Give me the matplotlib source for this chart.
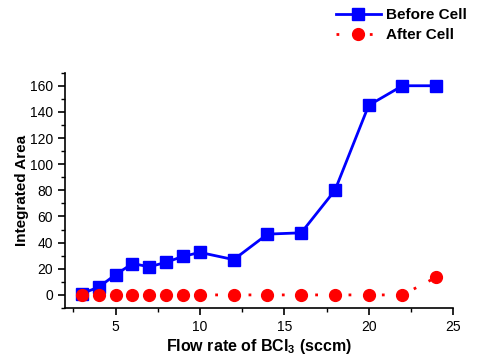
import matplotlib
matplotlib.use("Agg")
import matplotlib.pyplot as plt
from matplotlib.ticker import MultipleLocator

plt.rcParams['font.family'] = ['Liberation Sans', 'DejaVu Sans']

flow = [3, 4, 5, 6, 7, 8, 9, 10, 12, 14, 16, 18, 20, 22, 24]
before = [1, 6, 15.5, 24, 21.5, 25, 29.5, 32.5, 27, 46.5, 47.5, 80, 145, 160, 160]
after = [0, 0, 0, 0, 0, 0, 0, 0, 0, 0, 0, 0, 0, 0, 13.5]

fig = plt.figure(figsize=(4.83, 3.58), dpi=100)
ax = fig.add_axes([0.1346, 0.1397, 0.8034, 0.6573])

ax.plot(flow, before, color='#0000ff', marker='s', markersize=8, linewidth=2,
        label='Before Cell')
ax.plot(flow, after, color='#ff0000', marker='o', markersize=8.5, linewidth=2,
        linestyle=(0, (1, 5)), label='After Cell')

ax.set_xlim(2, 25)
ax.set_ylim(-10, 170)
ax.xaxis.set_major_locator(MultipleLocator(5))
ax.xaxis.set_minor_locator(MultipleLocator(2.5))
ax.yaxis.set_major_locator(MultipleLocator(20))
ax.yaxis.set_minor_locator(MultipleLocator(10))
ax.spines['top'].set_visible(False)
ax.spines['right'].set_visible(False)
ax.spines['left'].set_linewidth(1.2)
ax.spines['bottom'].set_linewidth(1.2)
ax.tick_params(which='major', direction='out', length=5, width=1.2, labelsize=10)
ax.tick_params(which='minor', direction='out', length=3, width=1.0)

ax.set_xlabel('Flow rate of BCl$_\\mathregular{3}$ (sccm)', fontsize=11.5,
              fontweight='bold', labelpad=2)
ax.set_ylabel('Integrated Area', fontsize=11, fontweight='bold', labelpad=1)

leg = fig.legend(loc='upper right', bbox_to_anchor=(0.995, 1.015), frameon=False,
                 prop={'weight': 'bold', 'size': 11}, handlelength=3,
                 handletextpad=0.3, labelspacing=0.4)

fig.savefig('out.png', dpi=100)
